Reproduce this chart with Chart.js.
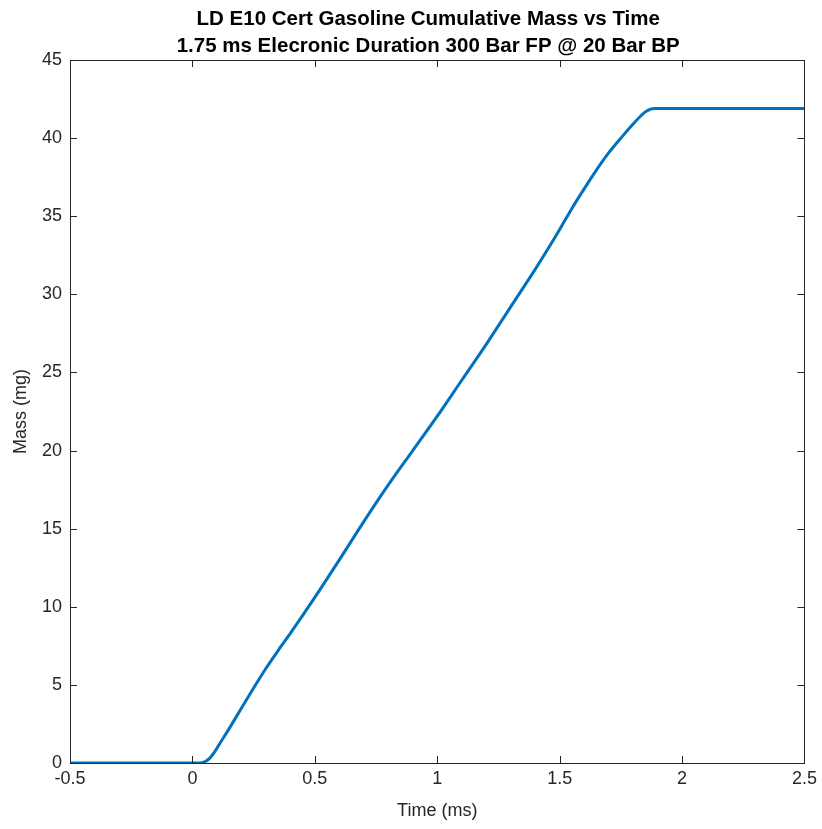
<!DOCTYPE html>
<html>
<head>
<meta charset="utf-8">
<script src="https://cdn.jsdelivr.net/npm/chart.js@4.4.1/dist/chart.umd.min.js"></script>
<style>
  html, body { margin: 0; padding: 0; background: #fff; }
  #wrap { width: 822px; height: 829px; }
</style>
</head>
<body>
<div id="wrap"><canvas id="massChart" width="822" height="829"></canvas></div>
<script>
// time (ms) and cumulative mass (mg)
const timeMs = [-0.5, 0, 0.03, 0.05, 0.07, 0.09, 0.11, 0.13, 0.15, 0.2, 0.25, 0.3, 0.35, 0.4, 0.5,
    0.6, 0.7, 0.8, 0.9, 1.0, 1.1, 1.2, 1.3, 1.4, 1.45, 1.5, 1.55, 1.6, 1.65, 1.7, 1.75, 1.8, 1.83,
    1.85, 1.87, 1.89, 2.0, 2.5];
const massMg = [0, 0, 0, 0.08, 0.3, 0.7, 1.2, 1.7, 2.2, 3.5, 4.8, 6.05, 7.2, 8.3, 10.6,
    13.0, 15.45, 17.8, 20.0, 22.2, 24.5, 26.8, 29.2, 31.6, 32.85, 34.15, 35.5, 36.75, 37.95, 39.05, 40.0, 40.9, 41.4,
    41.68, 41.85, 41.9, 41.9, 41.9];

const titleLines = ['LD E10 Cert Gasoline Cumulative Mass vs Time', '1.75 ms Elecronic Duration 300 Bar FP @ 20 Bar BP'];
const axisColor = '#262626';
const fontFamily = 'Arial, "Liberation Sans", sans-serif';

// inside tick marks on all four sides + box, like MATLAB
const boxTicks = {
    id: 'boxTicks',
    afterDatasetsDraw(chart) {
        const ctx = chart.ctx;
        const a = chart.chartArea;
        const xs = chart.scales.x;
        const ys = chart.scales.y;
        const len = 7;
        ctx.save();
        ctx.strokeStyle = axisColor;
        ctx.lineWidth = 1;
        ctx.beginPath();
        xs.ticks.forEach(t => {
            const px = Math.round(xs.getPixelForValue(t.value)) + 0.5;
            ctx.moveTo(px, a.bottom); ctx.lineTo(px, a.bottom - len);
            ctx.moveTo(px, a.top); ctx.lineTo(px, a.top + len);
        });
        ys.ticks.forEach(t => {
            const py = Math.round(ys.getPixelForValue(t.value)) + 0.5;
            ctx.moveTo(a.left, py); ctx.lineTo(a.left + len, py);
            ctx.moveTo(a.right, py); ctx.lineTo(a.right - len, py);
        });
        ctx.stroke();
        ctx.strokeRect(Math.round(a.left) + 0.5, Math.round(a.top) + 0.5,
            Math.round(a.right - a.left), Math.round(a.bottom - a.top));
        ctx.restore();
    }
};

// two-line bold title centred a little left of the axes centre
const plotTitle = {
    id: 'plotTitle',
    afterDraw(chart) {
        const ctx = chart.ctx;
        const a = chart.chartArea;
        const cx = (a.left + a.right) / 2 - 9;
        ctx.save();
        ctx.fillStyle = '#000';
        ctx.font = 'bold 20.5px ' + fontFamily;
        ctx.textAlign = 'center';
        ctx.textBaseline = 'middle';
        titleLines.forEach((line, i) => ctx.fillText(line, cx, 19 + i * 27.5));
        ctx.restore();
    }
};

const ctx = document.getElementById('massChart').getContext('2d');
const chart = new Chart(ctx, {
    type: 'line',
    data: {
        datasets: [{
            data: timeMs.map((t, i) => ({ x: t, y: massMg[i] })),
            borderColor: '#0072BD',
            borderWidth: 3,
            pointRadius: 0,
            fill: false,
            cubicInterpolationMode: 'monotone'
        }]
    },
    options: {
        responsive: false,
        animation: false,
        layout: { padding: { left: 0, right: 17, top: 60, bottom: 0 } },
        plugins: {
            legend: { display: false },
            tooltip: { enabled: false },
            title: { display: false }
        },
        scales: {
            x: {
                type: 'linear',
                min: -0.5,
                max: 2.5,
                grid: { display: false, drawTicks: false },
                border: { display: false },
                ticks: { stepSize: 0.5, color: axisColor, padding: 5, font: { family: fontFamily, size: 18 },
                    callback: v => v.toString() },
                title: { display: true, text: 'Time (ms)', color: axisColor, padding: { top: 0, bottom: 7 },
                    font: { family: fontFamily, size: 18 } },
                afterFit(scale) { scale.height = 66; }
            },
            y: {
                min: 0,
                max: 45,
                grid: { display: false, drawTicks: false },
                border: { display: false },
                ticks: { stepSize: 5, color: axisColor, padding: 8, font: { family: fontFamily, size: 18 } },
                title: { display: true, text: 'Mass (mg)', color: axisColor, padding: { top: 10, bottom: 0 },
                    font: { family: fontFamily, size: 18 } },
                afterFit(scale) { scale.width = 70; }
            }
        }
    },
    plugins: [boxTicks, plotTitle]
});
</script>
</body>
</html>
